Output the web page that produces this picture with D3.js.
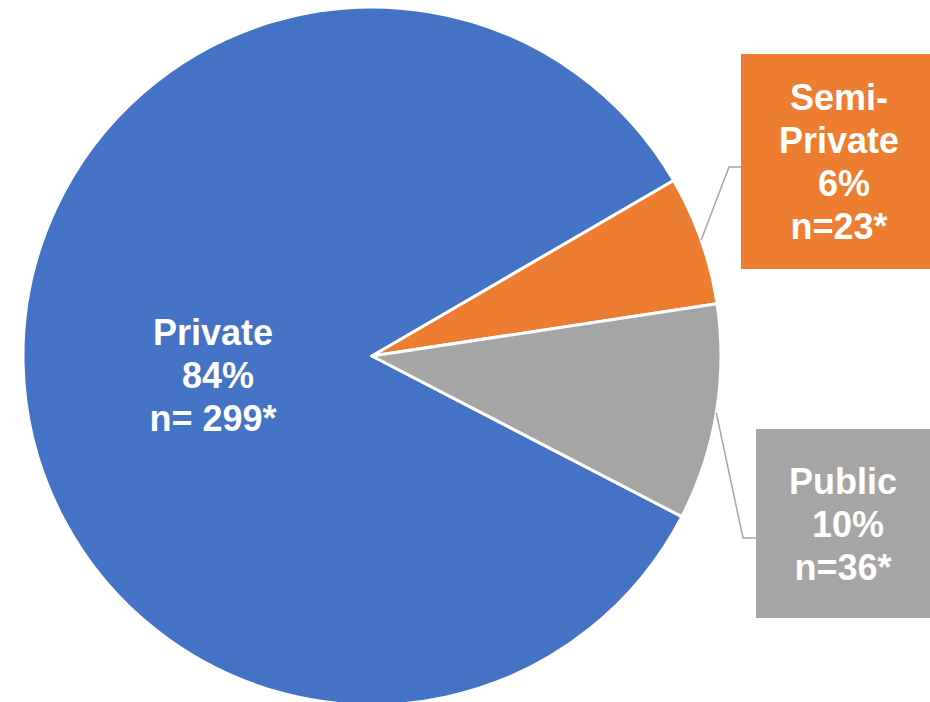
<!DOCTYPE html>
<html>
<head>
<meta charset="utf-8">
<script src="https://cdn.jsdelivr.net/npm/d3@7"></script>
<style>
  body { margin: 0; background: #fff; }
  svg { display: block; }
  text { font-family: "Liberation Sans", Arial, sans-serif; font-weight: bold; fill: #fff; }
</style>
</head>
<body>
<div id="chart"></div>
<script>
const categories = ["Private", "Semi-Private", "Public"]
const percents = [84, 6, 10]
const counts = [299, 23, 36]
const colors = ["#4472C4", "#ED7D31", "#A5A5A5"]

const W = 930, H = 702
const CX = 372, CY = 356, R = 349
const START = 117.4 * Math.PI / 180
const FS = 36

const svg = d3.select("#chart").append("svg")
    .attr("width", W)
    .attr("height", H)

const data = categories.map((c, i) => ({name: c, pct: percents[i], n: counts[i], color: colors[i]}))

const pie = d3.pie()
    .sort(null)
    .value(d => d.pct)
    .startAngle(START)
    .endAngle(START + 2 * Math.PI)

const arc = d3.arc().innerRadius(0).outerRadius(R)
const edge = d3.arc().innerRadius(R).outerRadius(R)

const g = svg.append("g").attr("transform", `translate(${CX},${CY})`)

const arcs = pie(data)

g.selectAll("path.slice")
    .data(arcs).enter()
    .append("path")
    .attr("class", "slice")
    .attr("d", arc)
    .attr("fill", d => d.data.color)
    .attr("stroke", "#fff")
    .attr("stroke-width", 3)
    .attr("stroke-linejoin", "round")

// label for the big slice, inside
const lh = 43
const priv = arcs[0]
g.append("text")
    .attr("text-anchor", "middle")
    .attr("font-size", FS)
    .style("white-space", "pre")
    .selectAll("tspan")
    .data([priv.data.name, " " + priv.data.pct + "%", "n= " + priv.data.n + "*"]).enter()
    .append("tspan")
    .attr("x", 213 - CX)
    .attr("y", (d, i) => 345 - CY + i * lh)
    .text(d => d)

// callout boxes for the small slices (positions in page coords)
const boxes = [
  null,
  {x: 741, y: 54, w: 200, h: 215, elbowX: 729, elbowY: 167, tx: 839, ty: 110,
   lines: d => ["Semi-", "Private", " " + d.pct + "%", "n=" + d.n + "*"]},
  {x: 756, y: 429, w: 190, h: 189, elbowX: 743, elbowY: 538, tx: 843, ty: 494,
   lines: d => ["Public", " " + d.pct + "%", "n=" + d.n + "*"]}
]

arcs.forEach((a, i) => {
  const b = boxes[i]
  if (!b) return
  const p = edge.centroid(a)
  svg.append("polyline")
      .attr("points", [[CX + p[0], CY + p[1]], [b.elbowX, b.elbowY], [b.x, b.elbowY]].map(q => q.join(",")).join(" "))
      .attr("fill", "none")
      .attr("stroke", "#A5A5A5")
      .attr("stroke-width", 1.5)
  svg.append("rect")
      .attr("x", b.x).attr("y", b.y)
      .attr("width", b.w).attr("height", b.h)
      .attr("fill", a.data.color)
  svg.append("text")
      .attr("text-anchor", "middle")
      .attr("font-size", FS)
      .style("white-space", "pre")
      .selectAll("tspan")
      .data(b.lines(a.data)).enter()
      .append("tspan")
      .attr("x", b.tx)
      .attr("y", (d, k) => b.ty + k * lh)
      .text(d => d)
})
</script>
</body>
</html>
